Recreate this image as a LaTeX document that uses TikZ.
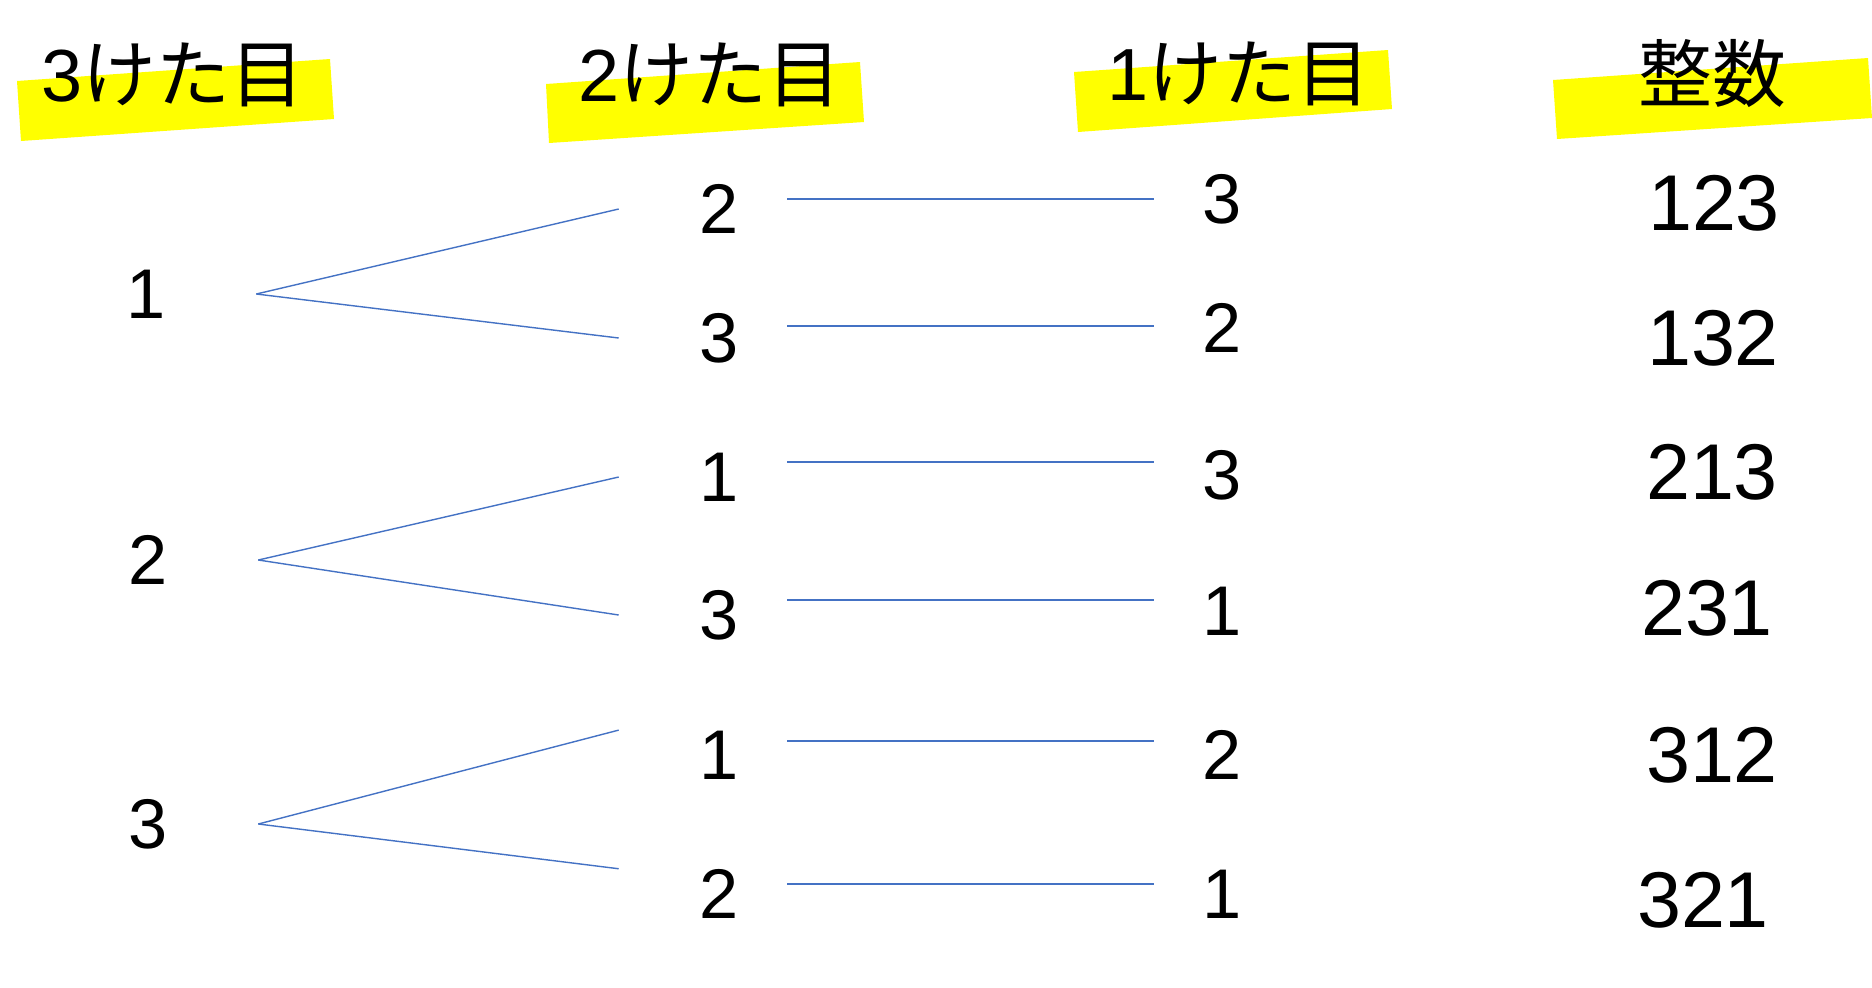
\documentclass[tikz,border=0pt]{standalone}
\usepackage{fontspec}
\setmainfont{Liberation Sans}
\newfontfamily\jpfont{Noto Sans CJK JP}
\definecolor{linkblue}{RGB}{68,114,196}
\definecolor{marker}{RGB}{255,255,0}

\begin{document}
\begin{tikzpicture}[x=0.01cm,y=-0.01cm,
  first/.style={font=\fontsize{20}{24}\selectfont, inner ysep=0pt, inner xsep=0.9cm},
  second/.style={first, inner xsep=0.8cm},
  third/.style={first, inner xsep=0.475cm},
  result/.style={font=\fontsize{22.5}{27}\selectfont},
  head/.style={font=\fontsize{21}{25}\selectfont},
  branch/.style={draw=linkblue, line width=0.4pt},
  hline/.style={branch, shorten <=0.68cm, transform canvas={yshift=#1}},
  hline/.default=0pt]
\useasboundingbox (0,0) rectangle (1872,987);

% yellow marks under the headings
\fill [marker] (17,81) -- (330,59) -- (334,119) -- (21,141) -- cycle;
\fill [marker] (546,84) -- (860,62) -- (864,122) -- (549,143) -- cycle;
\fill [marker] (1074,72) -- (1388,50) -- (1392,109) -- (1078,132) -- cycle;
\fill [marker] (1553,80) -- (1868,58) -- (1872,118) -- (1557,139) -- cycle;

\node (h3) at (173,75) [head] {3\jpfont けた目};
\node (h2) at (710,75) [head] {2\jpfont けた目};
\node (h1) at (1239,74) [head] {1\jpfont けた目};
\node (hn) at (1712,74) [head] {\jpfont 整数};

\node (a1) at (146,294) [first] {1};
\node (a2) at (148,560) [first] {2};
\node (a3) at (148,824) [first] {3};

\node (b1) at (719,209) [second] {2};
\node (b2) at (719,338) [second] {3};
\node (b3) at (719,477) [second] {1};
\node (b4) at (719,615) [second] {3};
\node (b5) at (719,755) [second] {1};
\node (b6) at (719,894) [second] {2};

\node (c1) at (1222,199) [third] {3};
\node (c2) at (1222,328) [third] {2};
\node (c3) at (1222,475) [third] {3};
\node (c4) at (1222,611) [third] {1};
\node (c5) at (1222,755) [third] {2};
\node (c6) at (1222,894) [third] {1};

\node (r1) at (1714,203) [result] {123};
\node (r2) at (1713,338) [result] {132};
\node (r3) at (1712,472) [result] {213};
\node (r4) at (1707,608) [result] {231};
\node (r5) at (1712,755) [result] {312};
\node (r6) at (1703,900) [result] {321};

\draw [branch] (a1.east) -- (b1.west);
\draw [branch] (a1.east) -- (b2.west);
\draw [branch] (a2.east) -- (b3.west);
\draw [branch] (a2.east) -- (b4.west);
\draw [branch] (a3.east) -- (b5.north west);
\draw [branch] (a3.east) -- (b6.north west);

\draw [hline] (b1.center |- c1.west) -- (c1.west);
\draw [hline=0.02cm] (b2.center |- c2.west) -- (c2.west);
\draw [hline=0.13cm] (b3.center |- c3.west) -- (c3.west);
\draw [hline=0.11cm] (b4.center |- c4.west) -- (c4.west);
\draw [hline=0.14cm] (b5.center |- c5.west) -- (c5.west);
\draw [hline=0.10cm] (b6.center |- c6.west) -- (c6.west);
%\draw [hline] (b1) -- (c1);
\end{tikzpicture}
\end{document}
